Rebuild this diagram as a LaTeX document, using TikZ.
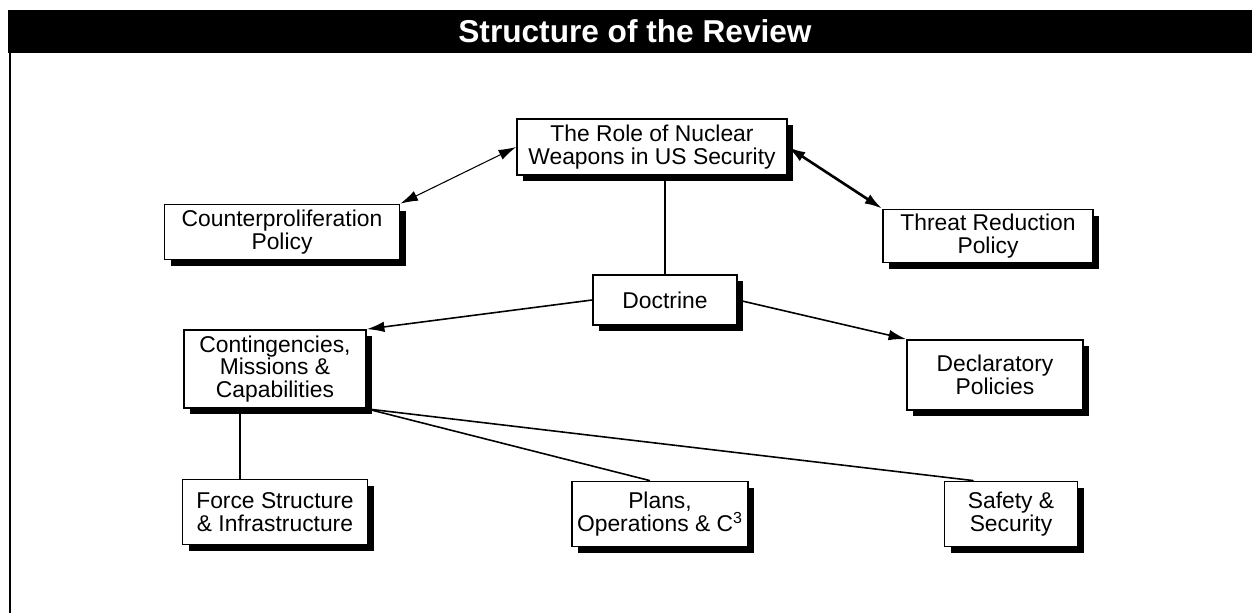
\documentclass[tikz,border=0pt]{standalone}
\usepackage{fontspec}
\setmainfont{Liberation Sans}
\usetikzlibrary{arrows.meta,shadows}
\begin{document}
\begin{tikzpicture}[x=0.02cm,y=-0.02cm,>={Latex[length=10pt,width=6pt]},
    box/.style={draw,line width=1pt,fill=white,align=center,inner sep=2pt,
        font=\fontsize{13}{13}\selectfont,
        drop shadow={shadow xshift=3.5pt,shadow yshift=-3.5pt,fill=black,opacity=1}},
    link/.style={line width=0.9pt}]
\useasboundingbox (0,0) rectangle (1252,613);
\fill (8,10) rectangle (1252,53);
\node[white,font=\fontsize{18}{18}\selectfont\bfseries] (title) at (635,31) {Structure of the Review};
\draw[line width=1pt] (10,53)--(10,613);

\node[box,minimum width=5.4cm,minimum height=1.12cm] (role) at (652,147) {The Role of Nuclear\\Weapons in US Security};
\node[box,minimum width=4.7cm,minimum height=1.1cm] (counter) at (282,232) {Counterproliferation\\Policy};
\node[box,minimum width=4.2cm,minimum height=1.06cm] (threat) at (988,236) {Threat Reduction\\Policy};
\node[box,minimum width=2.88cm,minimum height=1cm] (doctrine) at (665,300) {Doctrine};
\node[box,minimum width=3.64cm,minimum height=1.56cm] (conting) at (275,369) {Contingencies,\\Missions \&\\Capabilities};
\node[box,minimum width=3.52cm,minimum height=1.4cm] (declar) at (995,375) {Declaratory\\Policies};
\node[box,minimum width=3.7cm,minimum height=1.3cm] (force) at (275,512) {Force Structure\\\& Infrastructure};
\node[box,minimum width=3.52cm,minimum height=1.3cm] (plans) at (660,514) {Plans,\\Operations \& C\textsuperscript{3}};
\node[box,minimum width=2.66cm,minimum height=1.3cm] (safety) at (1011,514) {Safety \&\\Security};

\draw[<->,line width=0.6pt] (counter.north east)--(role.west);
\draw[<->,line width=1.5pt] (role.east)--(threat.north west);
\draw[link] (doctrine.north)--(doctrine.north |- role.south);
\draw[->,link] (doctrine.west)--(conting.north east);
\draw[->,link] (doctrine.east)--(declar.north west);
\draw[link] ([xshift=-0.7cm]conting.south)--([xshift=-0.7cm]force.north);
\draw[link] (conting.south east)--([xshift=-0.2cm]plans.north);
\draw[link] (conting.south east)--([xshift=0.6cm]safety.north west);
\end{tikzpicture}
\end{document}
